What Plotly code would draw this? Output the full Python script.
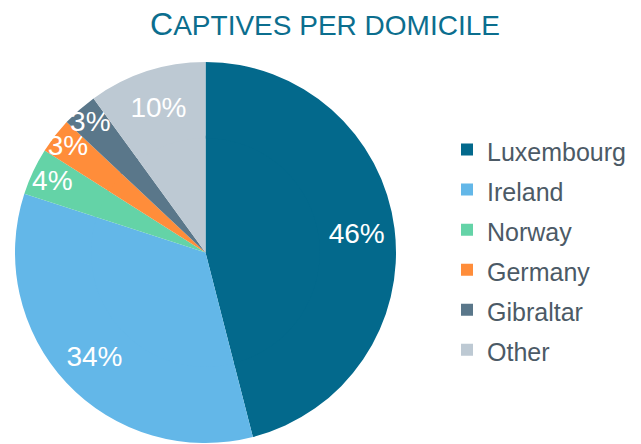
import plotly.graph_objects as go

domiciles = ["Luxembourg", "Ireland", "Norway", "Germany", "Gibraltar", "Other"]
shares = [46, 34, 4, 3, 3, 10]
slice_colors = ["#03698C", "#63B7E8", "#64D3A7", "#FF8D3A", "#5A778A", "#BDC9D3"]

# page has an 8px body margin, so the figure is drawn 8px in from the corner
W, H = 633, 436
FONT = "Liberation Sans, Arial, sans-serif"

ML, MT, MB = 7, 54, 1
PW, PH = W - ML, H - MT - MB          # plot area: 626 x 381
R = 190.5                             # pie radius in px
CX, CY = R, PH / 2                    # centre inside plot area
HOLE = 0.6
R_IN = HOLE * R + 2.5                 # inner fill slightly under the ring

legend_labels = [f"<span style='font-size:25px'>{d}</span>" for d in domiciles]

common = dict(
    labels=legend_labels,
    values=shares,
    sort=False,
    direction="clockwise",
    rotation=0,
    marker=dict(colors=slice_colors, line=dict(width=0)),
    hoverinfo="label+percent",
)

# inner fill of the pie (same data, no text)
inner = go.Pie(
    **common,
    textinfo="none",
    showlegend=False,
    domain=dict(x=[(CX - R_IN) / PW, (CX + R_IN) / PW],
                y=[(CY - R_IN) / PH, (CY + R_IN) / PH]),
)

# outer ring carrying the percentage labels and the legend
outer = go.Pie(
    **common,
    hole=HOLE,
    texttemplate="%{percent:.0%}",
    textposition="inside",
    insidetextorientation="horizontal",
    textfont=dict(color="white", size=28, family=FONT),
    domain=dict(x=[(CX - R) / PW, (CX + R) / PW], y=[0, 1]),
)

fig = go.Figure([inner, outer])

fig.update_layout(
    width=W, height=H,
    margin=dict(l=ML, r=0, t=MT, b=MB, autoexpand=False),
    paper_bgcolor="white",
    plot_bgcolor="white",
    uniformtext=dict(minsize=28, mode="show"),
    title=dict(
        text="C<span style='font-size:28px'>APTIVES PER DOMICILE</span>",
        font=dict(family=FONT, size=32, color="#0B6E8E"),
        x=317 / W, xanchor="center", xref="container",
        y=1 - 5 / H, yanchor="top", yref="container",
    ),
    legend=dict(
        font=dict(family=FONT, size=28.5, color="#4C5A66"),
        x=439 / W, xanchor="left", xref="container",
        y=1 - 116.5 / H, yanchor="top", yref="container",
        bgcolor="rgba(0,0,0,0)",
        traceorder="normal",
        maxheight=1,
    ),
    showlegend=True,
)

fig.write_html("out.html")
